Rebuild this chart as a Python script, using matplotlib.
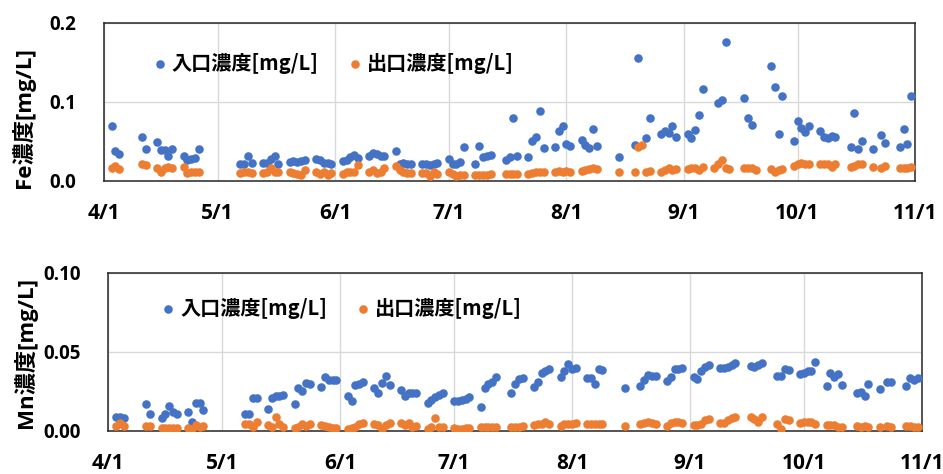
import numpy as np
import pandas as pd
import matplotlib
matplotlib.use("Agg")
import matplotlib.pyplot as plt
import matplotlib.dates as mdates
from matplotlib.ticker import FuncFormatter

nan = np.nan

# sampling days (2019)
dates = [
    "4/3", "4/4", "4/5",
    "4/11", "4/12",
    "4/15", "4/16", "4/17", "4/18", "4/19",
    "4/22", "4/23", "4/24", "4/25", "4/26",
    "5/7", "5/8", "5/9", "5/10",
    "5/13", "5/14", "5/15", "5/16", "5/17",
    "5/20", "5/21", "5/22", "5/23", "5/24",
    "5/27", "5/28", "5/29", "5/30", "5/31",
    "6/3", "6/4", "6/5", "6/6", "6/7",
    "6/10", "6/11", "6/12", "6/13", "6/14",
    "6/17", "6/18", "6/19", "6/20", "6/21",
    "6/24", "6/25", "6/26", "6/27", "6/28",
    "7/1", "7/2", "7/3", "7/4", "7/5",
    "7/8", "7/9", "7/10", "7/11", "7/12",
    "7/16", "7/17", "7/18", "7/19",
    "7/22", "7/23", "7/24", "7/25", "7/26",
    "7/29", "7/30", "7/31", "8/1", "8/2",
    "8/5", "8/6", "8/7", "8/8", "8/9",
    "8/15",
    "8/19", "8/20", "8/21", "8/22", "8/23",
    "8/26", "8/27", "8/28", "8/29", "8/30",
    "9/2", "9/3", "9/4", "9/5", "9/6",
    "9/9", "9/10", "9/11", "9/12", "9/13",
    "9/17", "9/18", "9/19", "9/20",
    "9/24", "9/25", "9/26", "9/27",
    "9/30", "10/1", "10/2", "10/3", "10/4",
    "10/7", "10/8", "10/9", "10/10", "10/11",
    "10/15", "10/16", "10/17", "10/18",
    "10/21", "10/23", "10/24",
    "10/28", "10/29", "10/30", "10/31",
]

fe_in = [
    0.070, 0.038, 0.034,
    0.055, 0.041,
    0.049, 0.039, 0.039, 0.031, 0.041,
    0.031, 0.027, 0.028, 0.029, 0.041,
    0.021, 0.022, 0.031, 0.023,
    0.023, 0.023, 0.028, 0.032, 0.022,
    0.024, 0.025, 0.024, 0.025, 0.027,
    0.028, 0.026, 0.023, 0.023, 0.022,
    0.025, 0.026, 0.030, 0.033, 0.029,
    0.031, 0.035, 0.034, 0.031, 0.031,
    0.038, 0.022, 0.023, 0.022, 0.022,
    0.022, 0.021, 0.020, 0.021, 0.023,
    0.028, 0.021, 0.022, 0.024, 0.043,
    0.021, 0.044, 0.030, 0.032, 0.033,
    0.026, 0.030, 0.079, 0.032,
    0.030, 0.050, 0.056, 0.088, 0.042,
    0.043, 0.063, 0.070, 0.047, 0.044,
    0.052, 0.045, 0.042, 0.066, 0.044,
    0.030,
    0.046, 0.156, nan, 0.054, 0.079,
    0.059, 0.063, 0.061, 0.070, 0.055,
    0.060, 0.054, 0.065, 0.083, 0.116,
    nan, 0.098, 0.102, 0.176, nan,
    0.105, 0.079, 0.071, nan,
    0.145, 0.119, 0.059, 0.107,
    0.051, 0.076, 0.067, 0.062, 0.069,
    0.063, 0.056, 0.054, 0.057, 0.055,
    0.043, 0.086, 0.040, 0.051,
    0.040, 0.058, 0.048,
    0.043, 0.066, 0.047, 0.108,
]

fe_out = [
    0.016, 0.019, 0.015,
    0.022, 0.020,
    0.016, 0.012, 0.017, 0.018, 0.017,
    0.018, 0.010, 0.011, 0.011, 0.011,
    0.010, 0.011, 0.011, 0.010,
    0.010, 0.011, 0.016, 0.012, 0.012,
    0.012, 0.010, 0.009, 0.008, 0.014,
    0.011, 0.009, 0.012, 0.007, 0.010,
    0.009, 0.012, 0.012, 0.012, 0.020,
    0.012, 0.014, 0.010, 0.012, 0.016,
    0.019, 0.014, 0.012, 0.010, 0.010,
    0.010, 0.010, 0.006, 0.011, 0.009,
    0.011, 0.009, 0.006, 0.008, 0.008,
    0.008, 0.008, 0.008, 0.008, 0.009,
    0.009, 0.009, 0.009, 0.009,
    0.009, 0.010, 0.011, 0.012, 0.011,
    0.012, 0.013, 0.012, 0.013, 0.012,
    0.013, 0.014, 0.015, 0.017, 0.015,
    0.012,
    0.011, 0.043, 0.045, 0.012, 0.013,
    0.012, 0.014, 0.017, 0.014, 0.015,
    0.015, 0.017, 0.016, 0.014, 0.018,
    0.016, 0.022, 0.026, 0.016, 0.015,
    0.017, 0.017, 0.016, 0.014,
    0.015, 0.012, 0.014, 0.015,
    0.019, 0.021, 0.023, 0.021, 0.021,
    0.021, 0.021, 0.021, 0.018, 0.021,
    0.018, 0.019, 0.021, 0.022,
    0.018, 0.017, 0.019,
    0.016, 0.016, 0.017, 0.018,
]

mn_in = [
    0.009, 0.009, 0.008,
    0.017, 0.011,
    0.008, 0.011, 0.016, 0.012, 0.011,
    0.012, 0.006, 0.0175, 0.018, 0.013,
    0.011, 0.0105, 0.021, 0.021,
    0.014, 0.021, 0.022, 0.022, 0.023,
    0.017, 0.027, 0.025, 0.0305, 0.030,
    0.028, 0.034, 0.032, 0.032, 0.032,
    0.022, 0.019, 0.029, 0.030, 0.031,
    0.027, 0.024, 0.0305, 0.035, 0.029,
    0.026, 0.022, 0.024, 0.024, 0.024,
    0.0175, 0.0196, 0.0217, 0.0227, 0.0238,
    0.019, 0.019, 0.0196, 0.020, 0.0217,
    0.0154, 0.027, 0.030, 0.031, 0.0343,
    0.0242, 0.030, 0.0327, 0.0337,
    0.028, 0.031, 0.0368, 0.0378, 0.039,
    0.0343, 0.0379, 0.0423, 0.039, 0.0395,
    0.0337, 0.0333, 0.0297, 0.039, 0.0385,
    0.027,
    0.0284, 0.032, 0.0354, 0.035, 0.0347,
    0.0316, 0.0339, 0.039, 0.039, 0.040,
    0.0339, 0.033, 0.038, 0.0406, 0.0417,
    0.0396, 0.0396, 0.0406, 0.0417, 0.0428,
    0.041, 0.0406, 0.0419, 0.0428,
    0.0347, 0.0347, 0.039, 0.0385,
    0.036, 0.0368, 0.038, 0.038, 0.0438,
    0.0284, 0.0368, 0.0339, 0.036, 0.029,
    0.0238, 0.0248, 0.0223, 0.0297,
    0.0265, 0.0311, 0.0311,
    0.0284, 0.0333, 0.032, 0.0333,
]

mn_out = [
    0.003, 0.005, 0.003,
    0.003, 0.003,
    0.0016, 0.002, 0.002, 0.002, 0.0016,
    0.0016, 0.0015, 0.0035, 0.0027, 0.003,
    0.0042, 0.0046, 0.0027, 0.0057,
    0.0035, 0.0027, 0.009, 0.0046, 0.0027,
    0.0016, 0.0027, 0.0046, 0.0032, 0.0042,
    0.0035, 0.003, 0.0025, 0.0016, 0.0016,
    0.0015, 0.002, 0.0027, 0.0042, 0.0052,
    0.0046, 0.0035, 0.0015, 0.0035, 0.005,
    0.0053, 0.0038, 0.0048, 0.0027, 0.003,
    0.0013, 0.0027, 0.008, 0.0027, 0.0023,
    0.0018, 0.0015, 0.0015, 0.0017, 0.0016,
    0.0025, 0.0027, 0.0027, 0.0027, 0.0027,
    0.0025, 0.0025, 0.0027, 0.003,
    0.0035, 0.0042, 0.0046, 0.0057, 0.0042,
    0.003, 0.0042, 0.0042, 0.0046, 0.005,
    0.0042, 0.0042, 0.0042, 0.0046, 0.0046,
    0.003,
    0.0046, 0.0048, 0.0059, 0.0048, 0.0046,
    0.0034, 0.0053, 0.0059, 0.0059, 0.0048,
    0.0035, 0.004, 0.0046, 0.0067, 0.0073,
    0.0048, 0.0053, 0.007, 0.008, 0.009,
    0.009, 0.0078, 0.0057, 0.009,
    0.0046, 0.001, 0.0073, 0.0067,
    0.005, 0.0059, 0.0059, 0.0059, 0.0042,
    0.0035, 0.0035, 0.0035, 0.0027, 0.0023,
    0.003, 0.0027, 0.003, 0.0027,
    0.0027, 0.003, 0.0027,
    0.003, 0.003, 0.0027, 0.0023,
]

label_in = "入口濃度[mg/L]"
label_out = "出口濃度[mg/L]"

BLUE = "#4472C4"
ORANGE = "#ED7D31"
CJK = ["Noto Sans CJK JP", "DejaVu Sans"]
LAT = ["Open Sans", "Noto Sans CJK JP", "DejaVu Sans"]

x = pd.to_datetime(["2019/" + d for d in dates], format="%Y/%m/%d")


def md(v, pos):
    d = mdates.num2date(v)
    return f"{d.month}/{d.day}"


def panel(ax, y_in, y_out, ymax, ystep, yfmt, leg_x, leg_y):
    ax.scatter(x, y_in, s=38, color=BLUE, label=label_in, zorder=3, linewidths=0)
    ax.scatter(x, y_out, s=38, color=ORANGE, label=label_out, zorder=3, linewidths=0)

    ax.set_xlim(pd.Timestamp("2019-04-01"), pd.Timestamp("2019-11-01"))
    ax.set_ylim(0, ymax)
    ax.set_yticks(np.arange(0, ymax + ystep / 2, ystep))
    ax.yaxis.set_major_formatter(FuncFormatter(lambda v, p: format(v, yfmt)))
    ax.xaxis.set_major_locator(mdates.MonthLocator())
    ax.xaxis.set_major_formatter(FuncFormatter(md))

    ax.grid(True, color="#D9D9D9", linewidth=1.0, zorder=0)
    ax.set_axisbelow(True)
    for s in ax.spines.values():
        s.set_color("#262626")
        s.set_linewidth(1.1)

    ax.tick_params(axis="x", length=0, pad=16)
    ax.tick_params(axis="y", length=0, pad=20)
    for t in ax.get_xticklabels():
        t.set_fontfamily(LAT)
        t.set_fontsize(15)
        t.set_fontweight("bold")
    for t in ax.get_yticklabels():
        t.set_fontfamily(LAT)
        t.set_fontsize(13.5)
        t.set_fontweight("bold")

    ax.legend(loc="center left", bbox_to_anchor=(leg_x, leg_y), ncol=2,
              frameon=False, handlelength=0.6, handletextpad=0.3,
              columnspacing=1.5, borderpad=0, borderaxespad=0,
              scatterpoints=1,
              prop={"family": CJK, "size": 14.5, "weight": "bold"})


fig = plt.figure(figsize=(9.43, 4.74), dpi=100)
W, H = 943, 474

ax1 = fig.add_axes([104 / W, 1 - 181 / H, 811 / W, 158.3 / H])
panel(ax1, fe_in, fe_out, 0.2, 0.1, ".1f", 0.061, 0.745)

ax2 = fig.add_axes([108.3 / W, 1 - 431 / H, 813.4 / W, 158.3 / H])
panel(ax2, mn_in, mn_out, 0.10, 0.05, ".2f", 0.066, 0.777)

fig.text(23 / W, 1 - 117.5 / H, "Fe濃度[mg/L]", rotation=90, ha="center", va="center",
         fontsize=16, fontweight="bold", family=LAT)
fig.text(25 / W, 1 - 352.5 / H, "Mn濃度[mg/L]", rotation=90, ha="center", va="center",
         fontsize=16, fontweight="bold", family=LAT)

fig.savefig("out.png", dpi=100)
